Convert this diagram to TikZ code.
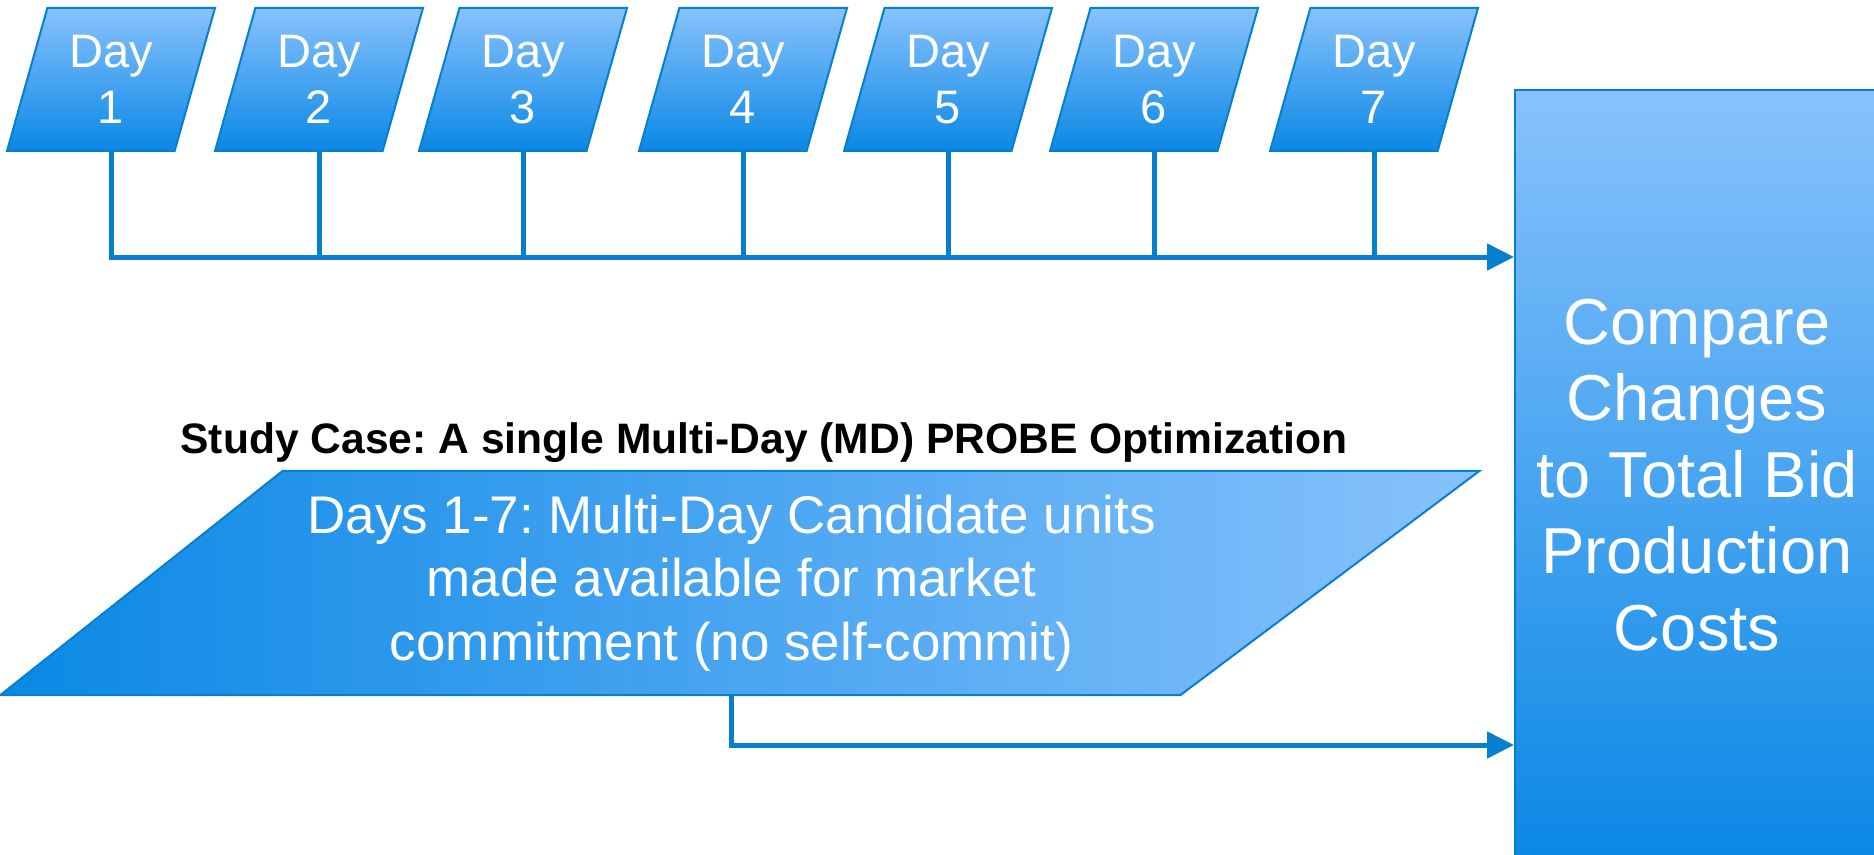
\documentclass[tikz,border=0pt]{standalone}
\usepackage{fontspec}
\setmainfont{Liberation Sans}
\usetikzlibrary{arrows.meta, shapes.geometric, calc}
\definecolor{skytop}{RGB}{136,194,252}
\definecolor{skybot}{RGB}{10,136,229}
\definecolor{edgeblue}{RGB}{6,128,204}
\tikzset{
    daybox/.style={trapezium, trapezium left angle=74, trapezium right angle=106, trapezium stretches body,
        minimum width=104pt, minimum height=71.5pt, inner xsep=0pt, inner ysep=13pt, draw=edgeblue, line width=1pt,
        top color=skytop, bottom color=skybot, text=white, align=center,
        font=\fontsize{23.5}{28.2}\selectfont}, % one box per day
    mdbox/.style={trapezium, trapezium left angle=38.4, trapezium right angle=143.2, trapezium stretches body,
        minimum width=739.5pt, minimum height=112pt, inner xsep=0pt, inner ysep=11.75pt, draw=edgeblue, line width=1pt,
        left color=skybot, right color=skytop, text=white, align=center,
        font=\fontsize{26.5}{31.8}\selectfont}, % the multi-day run
    cmpbox/.style={rectangle, minimum width=182pt, minimum height=385pt, inner sep=0pt,
        draw=edgeblue, line width=1pt, top color=skytop, bottom color=skybot, text=white, align=center,
        font=\fontsize{32.5}{38.2}\selectfont}, % result box on the right
    link/.style={draw=edgeblue, line width=2.5pt},
    feed/.style={link, -{Triangle[length=13.5pt, width=13pt]}}
}

\begin{document}
\frenchspacing
\begin{tikzpicture}[x=0.5pt, y=-0.5pt]
    \useasboundingbox (0,0) rectangle (1874,855);
    \clip (0,0) rectangle (1874,855);

    \foreach \i/\x in {1/111, 2/319, 3/523, 4/743, 5/948, 6/1154, 7/1374} {\node[daybox] (d\i) at (\x,79.5) {Day\\\i};}

    \node[cmpbox] (cmp) at (1697,475) {Compare\\Changes\\to Total Bid\\Production\\Costs};
    \node[anchor=base, font=\bfseries\fontsize{21.3}{25.6}\selectfont] (title) at (764,453) {Study Case: A single Multi-Day (MD) PROBE Optimization};
    \node[mdbox] (md) at (731.5,583) {Days 1-7: Multi-Day Candidate units\\made available for market\\commitment (no self-commit)};

    \coordinate (bus1) at ($(d1.south)+(0,105)$);
    \coordinate (bus2) at ($(md.south)+(0,49)$);
    \foreach \i in {2,...,7} {\draw[link] (d\i.south) -- (d\i.south |- bus1);}
    \draw[feed] (d1.south) -- (bus1) -- (bus1 -| cmp.west);
    \draw[feed] (md.south) -- (bus2) -- (bus2 -| cmp.west);
\end{tikzpicture}
\end{document}
